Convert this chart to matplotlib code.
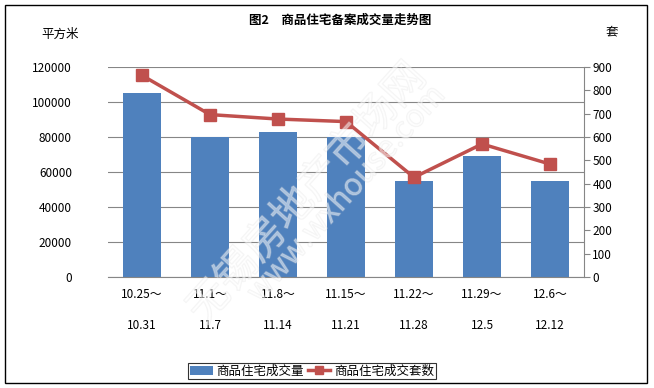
import numpy as np
import matplotlib.pyplot as plt
import matplotlib.patheffects as pe
from matplotlib.patches import Rectangle

plt.rcParams['font.family'] = ['Noto Sans CJK SC', 'DejaVu Sans']

# data
weeks_start = ["10.25～", "11.1～", "11.8～", "11.15～", "11.22～", "11.29～", "12.6～"]
weeks_end = ["10.31", "11.7", "11.14", "11.21", "11.28", "12.5", "12.12"]
area = [105000, 80000, 83000, 80000, 55000, 69000, 55000]
units = [864, 696, 677, 666, 427, 570, 484]

bar_color = "#4F81BD"
line_color = "#C0504D"

fig = plt.figure(figsize=(6.54, 3.88), dpi=100)
ax = fig.add_axes([108/654, 1-277/388, 476/654, 210/388])
x = np.arange(len(area))

ax.bar(x, area, width=0.56, color=bar_color, zorder=2, label="商品住宅成交量")
ax.set_xlim(-0.5, len(area)-0.5)
ax.set_ylim(0, 120000)
ax.set_yticks(np.arange(0, 120001, 20000))
ax.yaxis.grid(True, color="#868686", lw=0.8, zorder=0)
ax.set_axisbelow(True)
for s in ["top", "left", "right"]:
    ax.spines[s].set_visible(False)
ax.spines["bottom"].set_color("#868686")
ax.tick_params(axis="y", length=0, labelsize=8.5, pad=26)
ax.tick_params(axis="x", length=0, labelsize=8.5, pad=8)
ax.set_xticks(x)
ax.set_xticklabels([a + "\n\n" + b for a, b in zip(weeks_start, weeks_end)], linespacing=1.25)

ax2 = ax.twinx()
ax2.plot(x, units, color=line_color, lw=2.5, marker="s", markersize=8, zorder=3,
         label="商品住宅成交套数")
ax2.set_ylim(0, 900)
ax2.set_yticks(np.arange(0, 901, 100))
for s in ["top", "left", "bottom"]:
    ax2.spines[s].set_visible(False)
ax2.spines["right"].set_color("#868686")
ax2.tick_params(axis="y", length=4, color="#868686", labelsize=8.5, pad=2)

fig.text(0.52, 1-20/388, "图2　商品住宅备案成交量走势图", ha="center", va="center",
         fontsize=9, fontweight="bold")
fig.text(60/654, 1-34/388, "平方米", ha="center", va="center", fontsize=9)
fig.text(612/654, 1-32/388, "套", ha="center", va="center", fontsize=9)

# watermark (hollow letters, faint)
wm = [pe.withStroke(linewidth=1.0, foreground="#dddddd")]
fig.text(0.47, 0.50, "无锡房地产市场网", rotation=48, ha="center", va="center",
         fontsize=30, color="white", alpha=0.3, zorder=5, path_effects=wm)
fig.text(0.53, 0.50, "www.wxhouse.com", rotation=48, ha="center", va="center",
         fontsize=22, color="white", alpha=0.3, zorder=5, path_effects=wm)

h1, l1 = ax.get_legend_handles_labels()
h2, l2 = ax2.get_legend_handles_labels()
leg = fig.legend(h1 + h2, l1 + l2, loc="center", bbox_to_anchor=(312/654, 1-371/388),
                 ncol=2, fontsize=9, frameon=True, fancybox=False, edgecolor="black",
                 handlelength=1.8, handletextpad=0.3, columnspacing=0.3,
                 borderpad=0.15, borderaxespad=0, markerscale=0.7)
leg.get_frame().set_linewidth(0.8)

fig.patches.append(Rectangle((5/654, 5/388), 642/654, 378/388, transform=fig.transFigure,
                             fill=False, edgecolor="black", lw=1))

fig.savefig("out.png", dpi=100)
